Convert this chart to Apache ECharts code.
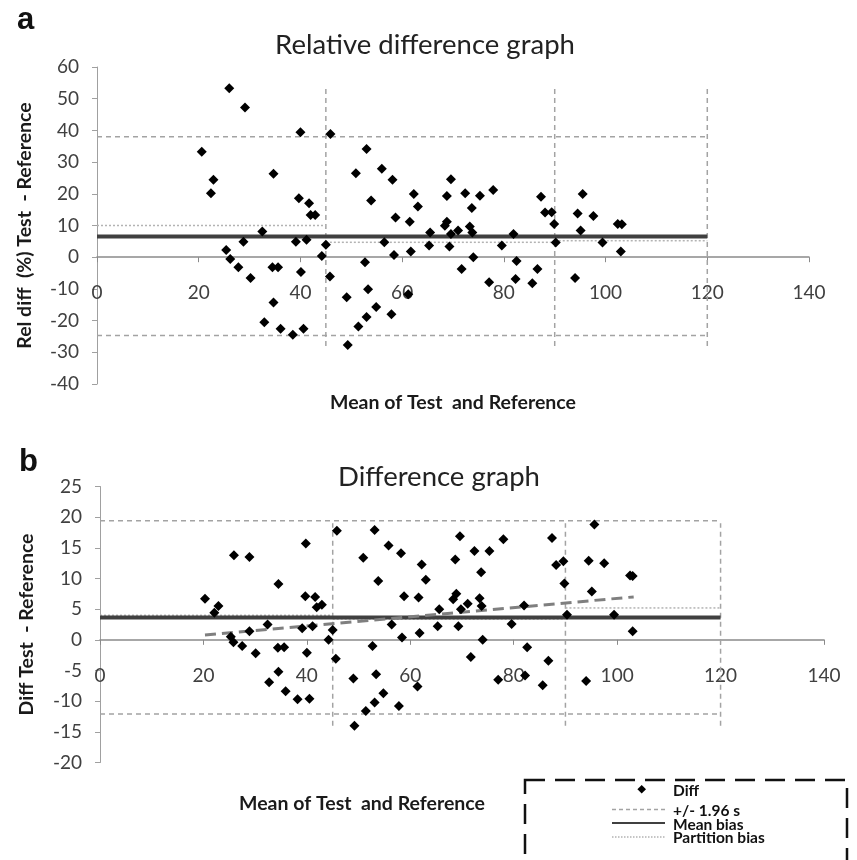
<!DOCTYPE html>
<html><head><meta charset="utf-8">
<script src="https://cdn.jsdelivr.net/npm/echarts@6/dist/echarts.min.js"></script>
<style>html,body{margin:0;padding:0;background:#fff}#c{width:857px;height:860px}</style>
</head><body><div id="c"></div>
<script>
// ---- Panel a : relative difference (%) ----
const relMean = [26.0,29.1,40.0,45.9,20.6,34.7,22.9,22.4,39.7,41.7,42.0,42.9,32.5,28.8,39.1,41.2,45.0,25.4,26.2,44.2,27.8,34.5,35.6,30.2,40.1,45.8,34.7,32.9,36.1,38.5,40.6,
  53.0,50.9,56.0,58.1,53.9,62.3,63.1,69.6,68.8,72.4,75.3,73.7,77.9,58.7,61.5,68.4,68.8,65.5,69.6,71.0,73.3,73.8,56.5,65.3,69.3,58.4,61.7,52.7,74.0,71.7,77.1,53.3,49.1,61.2,54.9,57.9,53.0,51.4,49.3,
  87.3,95.5,88.1,89.4,94.5,97.6,89.9,102.4,103.2,95.1,81.9,79.6,90.2,99.4,103.0,82.5,86.6,82.3,85.6,94.0];
const relDiff = [53.3,47.2,39.4,38.9,33.3,26.3,24.4,20.2,18.6,17.0,13.3,13.3,8.1,4.9,4.9,5.5,3.9,2.3,-0.6,0.4,-3.2,-3.2,-3.2,-6.6,-4.7,-6.1,-14.3,-20.5,-22.6,-24.5,-22.6,
  34.1,26.5,27.9,24.4,17.9,19.9,16.0,24.6,19.3,20.2,19.4,15.5,21.2,12.5,11.2,9.9,11.2,7.8,7.3,8.4,9.7,7.8,4.7,3.7,3.4,0.7,1.8,-1.6,0.0,-3.7,-7.9,-10.1,-12.6,-11.7,-15.7,-18.0,-18.9,-21.9,-27.7,
  19.1,19.9,14.1,14.2,13.8,13.0,10.5,10.5,10.4,8.4,7.3,3.7,4.6,4.6,1.8,-1.2,-3.7,-6.9,-8.2,-6.6];
const relLimits = [38.0, -24.7];          // +/- 1.96 s
const relMeanBias = 6.5;
const relPartitionBias = [10.0, 4.7, 5.2];
const relSpan = [-28.0, 53.5];             // extent of partition verticals

// ---- Panel b : absolute difference ----
const absMean = [45.8,39.8,25.9,28.9,34.5,20.3,39.7,41.6,22.9,22.1,41.9,42.9,32.4,28.9,39.1,41.1,45.0,25.3,25.8,44.2,27.5,34.4,35.6,30.1,40.0,45.6,34.5,32.7,35.9,38.2,40.5,
  53.1,69.6,55.8,50.9,58.2,72.4,75.3,78.0,68.7,62.2,53.8,63.0,73.7,58.8,61.6,68.9,68.3,73.4,71.1,73.8,65.6,69.8,56.4,65.3,69.3,58.4,61.8,52.7,74.0,71.7,77.0,53.4,49.0,61.4,54.8,57.8,53.1,51.4,49.2,
  87.4,95.6,88.2,89.6,94.5,97.5,89.8,102.5,103.0,95.1,82.0,79.6,90.3,99.4,103.0,82.6,86.7,82.2,85.6,94.0];
const absDiff = [17.8,15.7,13.8,13.5,9.1,6.7,7.1,7.0,5.5,4.4,5.3,5.7,2.5,1.4,1.9,2.2,1.6,0.5,-0.4,0.0,-1.0,-1.3,-1.2,-2.2,-2.1,-3.1,-5.2,-6.9,-8.4,-9.7,-9.6,
  17.9,16.9,15.4,13.4,14.1,14.5,14.5,16.4,13.1,12.3,9.6,9.8,11.0,7.1,6.9,7.5,6.6,6.8,5.9,5.5,5.0,5.0,2.5,2.2,2.2,0.4,1.1,-1.0,0.0,-2.8,-6.5,-5.6,-6.3,-7.6,-8.7,-10.8,-10.2,-11.6,-14.0,
  16.6,18.8,12.2,12.8,12.9,12.5,9.2,10.5,10.4,7.9,5.6,2.6,4.1,4.1,1.4,-1.2,-3.4,-5.8,-7.4,-6.7];
const absLimits = [19.4, -12.1];
const absMeanBias = 3.65;
const absPartitionBias = [4.0, 3.4, 5.2];
const absSpan = [-14.0, 19.0];
const absTrendX = [20.3, 103.2];
const absTrendY = [0.8, 7.0];

const partitionEdges = [0, 45, 90, 120];
const xAxisRange = [0, 140, 20];
const relAxisRange = [-40, 60, 10];
const absAxisRange = [-20, 25, 5];

const legendNames = ['Diff', '+/- 1.96 s', 'Mean bias', 'Partition bias'];

// ---- styles ----
const FONT = 'Lato';
const limitStyle = {color:'#a3a3a3', width:1.5, type:[5,4]};
const partStyle  = {color:'#b3b3b3', width:1.5, type:[2,2]};
const biasStyle  = {color:'#404040', width:4};
const trendStyle = {color:'#7f7f7f', width:3, type:[11,6]};

function seg(name, idx, pts, style, z){
  return {type:'line', name:name, xAxisIndex:idx, yAxisIndex:idx, data:pts,
    symbol:'none', silent:true, lineStyle:style, z:z, animation:false};
}
function panel(idx, xs, ys, limits, bias, partBias, span){
  const end = partitionEdges[partitionEdges.length-1];
  const s = [];
  limits.forEach(v => s.push(seg(legendNames[1], idx, [[0,v],[end,v]], limitStyle, 2)));
  partitionEdges.slice(1).forEach(e => s.push(seg(legendNames[1], idx, [[e,span[0]],[e,span[1]]], limitStyle, 2)));
  partBias.forEach((v,i) => s.push(seg(legendNames[3], idx, [[partitionEdges[i],v],[partitionEdges[i+1],v]], partStyle, 3)));
  s.push(seg(legendNames[2], idx, [[0,bias],[end,bias]], biasStyle, 4));
  s.push({type:'scatter', name:legendNames[0], xAxisIndex:idx, yAxisIndex:idx,
    data: xs.map((x,i)=>[x, ys[i]]), symbol:'diamond', symbolSize:10,
    itemStyle:{color:'#000', opacity:1}, z:6, animation:false});
  return s;
}

const series = [].concat(
  panel(0, relMean, relDiff, relLimits, relMeanBias, relPartitionBias, relSpan),
  panel(1, absMean, absDiff, absLimits, absMeanBias, absPartitionBias, absSpan),
  [seg('trend', 1, absTrendX.map((x,i)=>[x, absTrendY[i]]), trendStyle, 5)]
);

function xAxis(idx, name, gap, margin){
  return {type:'value', gridIndex:idx, min:xAxisRange[0], max:xAxisRange[1], interval:xAxisRange[2],
    axisLine:{show:true, onZero:true, lineStyle:{color:'#8a8a8a', width:1.5}},
    axisTick:{show:true, length:5, lineStyle:{color:'#8a8a8a'}},
    splitLine:{show:false},
    axisLabel:{fontFamily:FONT, fontSize:19, color:'#404040', margin:margin},
    name:name, nameLocation:'middle', nameGap:gap,
    nameTextStyle:{fontFamily:FONT, fontSize:19.5, fontWeight:'bold', color:'#1a1a1a'}};
}
function yAxis(idx, r, name, gap){
  return {type:'value', gridIndex:idx, min:r[0], max:r[1], interval:r[2],
    axisLine:{show:true, onZero:false, lineStyle:{color:'#a0a0a0', width:1}},
    axisTick:{show:true, length:5, lineStyle:{color:'#a0a0a0'}},
    splitLine:{show:false},
    axisLabel:{fontFamily:FONT, fontSize:19, color:'#404040', margin:18},
    name:name, nameLocation:'middle', nameGap:gap, nameRotate:90,
    nameTextStyle:{fontFamily:FONT, fontSize:19.5, fontWeight:'bold', color:'#1a1a1a'}};
}

const lgX = 612, lgX2 = 665, lgTxt = 673;
const lgRows = [789.3, 809.5, 823, 837];
const lgTextY = [791, 810.5, 824.5, 838];
const lgFont = 'bold 15.5px Lato';
const option = {
  backgroundColor:'#fff',
  animation:false,
  grid:[
    {left:97, top:67, width:712, height:317, containLabel:false, outerBoundsMode:'none'},
    {left:100, top:486.5, width:724, height:276, containLabel:false, outerBoundsMode:'none'}
  ],
  title:[
    {text:'a', left:12, top:0, textStyle:{fontFamily:'Liberation Sans', fontSize:31, fontWeight:'bold', color:'#111'}},
    {text:'Relative difference graph', left:420, top:26, textAlign:'center', textStyle:{fontFamily:FONT, fontSize:27.5, fontWeight:'normal', color:'#222'}},
    {text:'b', left:14, top:442, textStyle:{fontFamily:'Liberation Sans', fontSize:31, fontWeight:'bold', color:'#111'}},
    {text:'Difference graph', left:434, top:458, textAlign:'center', textStyle:{fontFamily:FONT, fontSize:27.5, fontWeight:'normal', color:'#222'}},
    {text:'Mean of Test  and Reference', left:357, top:789, textAlign:'center', textStyle:{fontFamily:FONT, fontSize:19.5, fontWeight:'bold', color:'#1a1a1a'}}
  ],
  xAxis:[xAxis(0, 'Mean of Test  and Reference', 9, -101), xAxis(1, '', 30, -96.5)],
  yAxis:[yAxis(0, relAxisRange, 'Rel diff  (%) Test  - Reference', 62), yAxis(1, absAxisRange, 'Diff Test  - Reference', 63)],
  series:series,
  graphic:[
    {type:'rect', shape:{x:525, y:780, width:322, height:120}, style:{fill:'none', stroke:'#111', lineWidth:2.5, lineDash:[20,10]}},
    {type:'polygon', shape:{points:[[641.7,lgRows[0]-4.3],[646,lgRows[0]],[641.7,lgRows[0]+4.3],[637.4,lgRows[0]]]}, style:{fill:'#000'}},
    {type:'text', x:lgTxt, y:lgTextY[0], style:{text:legendNames[0], font:lgFont, fill:'#111', verticalAlign:'middle', align:'left'}},
    {type:'line', shape:{x1:lgX, y1:lgRows[1], x2:lgX2, y2:lgRows[1]}, style:{stroke:'#a3a3a3', lineWidth:1.5, lineDash:[4,3]}},
    {type:'text', x:lgTxt, y:lgTextY[1], style:{text:legendNames[1], font:lgFont, fill:'#111', verticalAlign:'middle', align:'left'}},
    {type:'line', shape:{x1:lgX, y1:lgRows[2], x2:lgX2, y2:lgRows[2]}, style:{stroke:'#404040', lineWidth:2}},
    {type:'text', x:lgTxt, y:lgTextY[2], style:{text:legendNames[2], font:lgFont, fill:'#111', verticalAlign:'middle', align:'left'}},
    {type:'line', shape:{x1:lgX, y1:lgRows[3], x2:lgX2, y2:lgRows[3]}, style:{stroke:'#b3b3b3', lineWidth:1.5, lineDash:[1.5,1.5]}},
    {type:'text', x:lgTxt, y:lgTextY[3], style:{text:legendNames[3], font:lgFont, fill:'#111', verticalAlign:'middle', align:'left'}}
  ]
};
const chart = echarts.init(document.getElementById('c'), null, {renderer:'canvas'});
chart.setOption(option);
</script></body></html>
